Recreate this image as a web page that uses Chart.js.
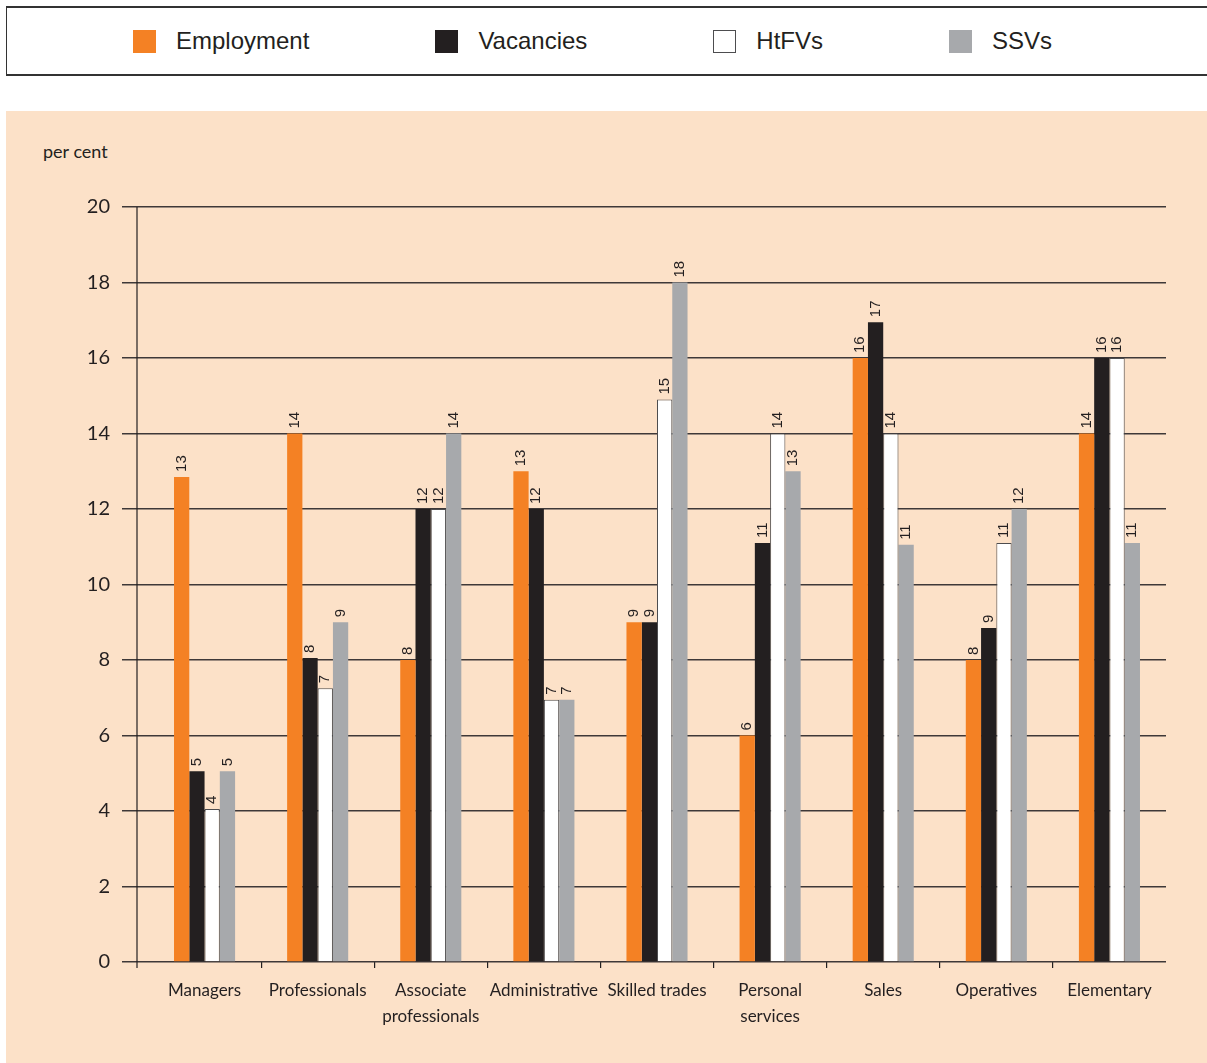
<!DOCTYPE html>
<html>
<head>
<meta charset="utf-8">
<script src="https://cdn.jsdelivr.net/npm/chart.js@4"></script>
<style>
  body { margin: 0; background: #ffffff; width: 1207px; height: 1063px; overflow: hidden; position: relative; }
  #legend {
    position: absolute; left: 6px; top: 6px; width: 1220px; height: 70px;
    border: 1px solid #333; border-top-width: 2px; border-bottom-width: 2px;
    display: flex; align-items: center; padding-left: 126px; box-sizing: border-box;
    font-family: "Liberation Sans", Arial, sans-serif; font-size: 24px; color: #231f20;
  }
  .item { display: flex; align-items: center; margin-right: 126px; }
  .swatch { width: 23px; height: 23px; margin-right: 20px; box-sizing: border-box; }
  #panel { position: absolute; left: 6px; top: 111px; width: 1201px; height: 952px; background: #fce1c8; }
  #unit { position: absolute; left: 37px; top: 29px; font-family: Lato, sans-serif; font-size: 18px; color: #231f20; }
  #chart { position: absolute; left: 0; top: 0; }
</style>
</head>
<body>
<div id="legend"></div>
<div id="panel">
  <div id="unit">per cent</div>
  <canvas id="chart" width="1201" height="952"></canvas>
</div>
<script>
// Occupation groups on the x axis
const categories = ['Managers', 'Professionals', ['Associate', 'professionals'], 'Administrative',
    'Skilled trades', ['Personal', 'services'], 'Sales', 'Operatives', 'Elementary'];

// Shares in per cent
const employment = [12.85, 14.0, 8.0, 13.0, 9.0, 6.0, 16.0, 8.0, 14.0];
const vacancies = [5.05, 8.05, 12.0, 12.0, 9.0, 11.1, 16.95, 8.85, 16.0];
const htfvs = [4.05, 7.25, 12.0, 6.95, 14.9, 14.0, 14.0, 11.1, 16.0];
const ssvs = [5.05, 9.0, 14.0, 6.95, 18.0, 13.0, 11.05, 12.0, 11.1];

const seriesNames = ['Employment', 'Vacancies', 'HtFVs', 'SSVs'];
const yTicks = [0, 2, 4, 6, 8, 10, 12, 14, 16, 18, 20];

const colors = ['#f48124', '#231f20', '#ffffff', '#a7a9ac'];
const borders = ['#f48124', '#231f20', '#4d4d4f', '#a7a9ac'];
const inkColor = '#231f20';
const gridColor = '#3e3838';

const datasets = [employment, vacancies, htfvs, ssvs].map((values, idx) => ({
    label: seriesNames[idx],
    data: values,
    backgroundColor: colors[idx],
    borderColor: borders[idx],
    borderWidth: idx === 2 ? 1 : 0,
    barPercentage: 1.0,
    categoryPercentage: 0.54
}));

// Build the legend box from the datasets
const legendEl = document.getElementById('legend');
datasets.forEach(ds => {
    const item = document.createElement('div');
    item.className = 'item';
    const sw = document.createElement('span');
    sw.className = 'swatch';
    sw.style.background = ds.backgroundColor;
    if (ds.borderWidth) sw.style.border = '1px solid ' + ds.borderColor;
    const txt = document.createElement('span');
    txt.textContent = ds.label;
    item.appendChild(sw);
    item.appendChild(txt);
    legendEl.appendChild(item);
});

// Rotated value labels above each bar, plus the y axis line left of the plot
const barLabels = {
    id: 'barLabels',
    afterDatasetsDraw(chart) {
        const ctx = chart.ctx;
        ctx.save();
        ctx.font = '15px "Liberation Sans", Arial, sans-serif';
        ctx.fillStyle = inkColor;
        ctx.textAlign = 'left';
        ctx.textBaseline = 'middle';
        chart.data.datasets.forEach((ds, di) => {
            chart.getDatasetMeta(di).data.forEach((bar, i) => {
                ctx.save();
                ctx.translate(bar.x, bar.y - 5);
                ctx.rotate(-Math.PI / 2);
                ctx.fillText(String(Math.round(ds.data[i])), 0, 0);
                ctx.restore();
            });
        });
        ctx.restore();
    },
    beforeDatasetsDraw(chart) {
        const a = chart.chartArea;
        const ctx = chart.ctx;
        ctx.save();
        ctx.strokeStyle = inkColor;
        ctx.lineWidth = 1.2;
        ctx.beginPath();
        ctx.moveTo(a.left - 11, a.top);
        ctx.lineTo(a.left - 11, a.bottom + 6);
        ctx.stroke();
        ctx.restore();
    }
};

new Chart(document.getElementById('chart'), {
    type: 'bar',
    data: { labels: categories, datasets: datasets },
    plugins: [barLabels],
    options: {
        responsive: false,
        animation: false,
        layout: { padding: { top: 96, right: 41, left: 0, bottom: 0 } },
        plugins: { legend: { display: false }, tooltip: { enabled: false } },
        scales: {
            x: {
                offset: true,
                afterFit(scale) { scale.height = 101; },
                border: { display: false },
                grid: {
                    offset: true,
                    drawOnChartArea: false,
                    tickLength: 6,
                    lineWidth: 1.2,
                    color: c => (c.index > 0 && c.index < categories.length) ? inkColor : 'transparent'
                },
                ticks: {
                    color: inkColor,
                    font: { family: 'Lato, sans-serif', size: 17, lineHeight: 1.5 },
                    padding: 10,
                    maxRotation: 0,
                    autoSkip: false
                }
            },
            y: {
                min: 0,
                max: 20,
                afterFit(scale) { scale.width = 142; },
                afterBuildTicks(scale) { scale.ticks = yTicks.map(v => ({ value: v })); },
                border: { display: false },
                grid: { color: gridColor, lineWidth: 1.5, tickLength: 26 },
                ticks: {
                    color: inkColor,
                    font: { family: 'Lato, sans-serif', size: 20 },
                    padding: 12
                }
            }
        }
    }
});
</script>
</body>
</html>
